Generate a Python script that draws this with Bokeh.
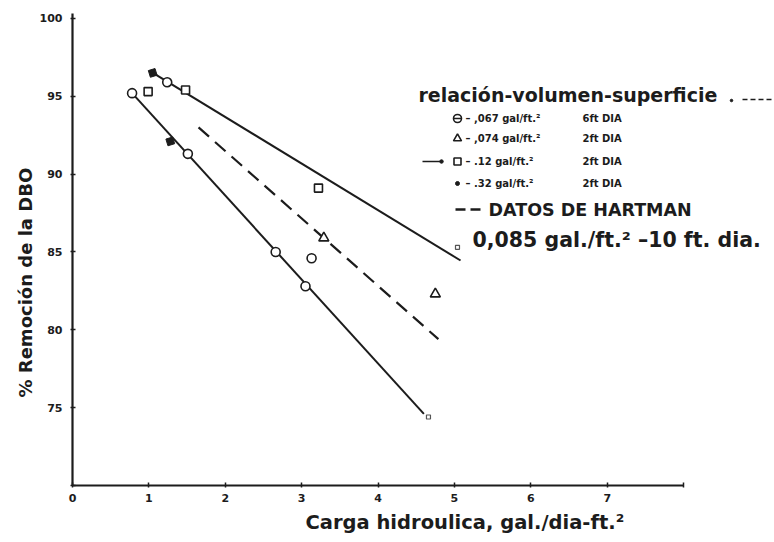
import math
from bokeh.plotting import figure
from bokeh.models import Range1d, FixedTicker, Label, Title
from bokeh.embed import file_html
from bokeh.resources import INLINE

# --- data -----------------------------------------------------------------
# relación volumen-superficie .067 gal/ft2, 6 ft diámetro (círculos)
c067_x = [0.78, 1.24, 1.51, 2.66, 3.05, 3.13]
c067_y = [95.2, 95.9, 91.3, 85.0, 82.8, 84.6]
# .074 gal/ft2, 2 ft diámetro (triángulos)
t074_x = [3.29, 4.75]
t074_y = [85.9, 82.3]
# .12 gal/ft2, 2 ft diámetro (cuadrados)
s12_x = [0.99, 1.48, 3.22]
s12_y = [95.3, 95.4, 89.1]
# .32 gal/ft2, 2 ft diámetro (puntos rellenos)
f32_x = [1.05, 1.28]
f32_y = [96.5, 92.1]
# puntos pequeños al final de las rectas
end_x = [5.04, 4.66]
end_y = [85.3, 74.4]

# rectas de ajuste
lower_x = [0.78, 4.60]
lower_y = [95.2, 74.6]
upper_x = [1.02, 5.08]
upper_y = [96.6, 84.45]
# datos de Hartman, 0.085 gal/ft2 - 10 ft
hart_x = [1.65, 4.79]
hart_y = [93.0, 79.4]

x_ticks = [0, 1, 2, 3, 4, 5, 6, 7, 8]
y_ticks = [70, 75, 80, 85, 90, 95, 100]

# --- figure ---------------------------------------------------------------
W, H = 774, 542
LEFT, BOTTOM = 72, 57
X_END, Y_END = 9.19, 101.15
INK = "#1c1c1c"
FONT = "DejaVu Sans"

p = figure(width=W, height=H, output_backend="svg", toolbar_location=None,
           x_range=Range1d(0, X_END), y_range=Range1d(70, Y_END),
           min_border_left=LEFT, min_border_bottom=BOTTOM,
           min_border_right=0, min_border_top=0)
p.outline_line_color = None
p.grid.grid_line_color = None
p.background_fill_color = "white"
p.border_fill_color = "white"

sx = (W - LEFT) / X_END
sy = (H - BOTTOM) / (Y_END - 70)


def dx(px):
    return (px - LEFT) / sx


def dy(py):
    return 70 + (H - BOTTOM - py) / sy


for ax, ticks, bounds, hide in ((p.xaxis, x_ticks, (0, 8), 8),
                                (p.yaxis, y_ticks, (70, 100.3), 70)):
    ax.ticker = FixedTicker(ticks=ticks)
    ax.bounds = bounds
    ax.major_label_overrides = {hide: ""}
    ax.axis_line_width = 2.2
    ax.axis_line_color = INK
    ax.major_tick_line_color = INK
    ax.major_tick_line_width = 1.5
    ax.major_tick_in = 3
    ax.major_tick_out = 2
    ax.minor_tick_line_color = None
    ax.major_label_text_font = FONT
    ax.major_label_text_font_style = "bold"
    ax.major_label_text_font_size = "11px"
    ax.major_label_text_color = INK
p.yaxis.major_label_standoff = 8
p.xaxis.major_label_standoff = 6

# axis titles, placed as side titles so they can sit off-centre
p.add_layout(Title(text="Carga hidroulica, gal./dia-ft.²", align="left",
                   offset=233, text_font=FONT, text_font_style="bold",
                   text_font_size="19.5px", text_color=INK, standoff=9), "below")
p.add_layout(Title(text="% Remoción de la DBO", align="left", offset=88,
                   text_font=FONT, text_font_style="bold",
                   text_font_size="18px", text_color=INK, standoff=2), "left")

# --- lines ----------------------------------------------------------------
p.line(lower_x, lower_y, line_color=INK, line_width=2)
p.line(upper_x, upper_y, line_color=INK, line_width=2)
p.line(hart_x, hart_y, line_color=INK, line_width=2.2, line_dash="14 8")

# --- markers --------------------------------------------------------------
mk = dict(line_color=INK, line_width=1.6, fill_color="white")
p.scatter(c067_x, c067_y, marker="circle", size=9, **mk)
p.scatter(t074_x, t074_y, marker="triangle", size=10, **mk)
p.scatter(s12_x, s12_y, marker="square", size=8, **mk)
p.scatter(f32_x, f32_y, marker="square", size=7, line_color=INK,
          fill_color=INK, angle=0.3)
p.scatter(end_x, end_y, marker="square", size=4, line_color="#555555",
          fill_color=None, line_width=1.2)


# --- legend ---------------------------------------------------------------
def txt(px, py, s, size, align="left"):
    p.add_layout(Label(x=dx(px), y=dy(py), text=s, text_font=FONT,
                       text_font_style="bold", text_font_size=size,
                       text_color=INK, text_align=align,
                       text_baseline="middle"))


txt(418, 94, "relación-volumen-superficie", "19px")
p.scatter([dx(731)], [dy(100)], marker="circle", size=2.5, color=INK)
p.line([dx(742), dx(772)], [dy(99), dy(99)], line_color=INK, line_width=1.5,
       line_dash="5 3")

rows = [
    ("– ,067 gal/ft.²", "6ft  DIA", 118),
    ("– ,074 gal/ft.²", "2ft  DIA", 138),
    ("– .12   gal/ft.²", "2ft  DIA", 161),
    ("– .32  gal/ft.²", "2ft  DIA", 183),
]
for a, b, py in rows:
    txt(465, py, a, "10px")
    txt(582, py, b, "10px")

# row markers
p.scatter([dx(457)], [dy(118)], marker="circle", size=8, **mk)
p.line([dx(453), dx(461)], [dy(118), dy(118)], line_color=INK, line_width=1.5)
p.scatter([dx(457)], [dy(138)], marker="triangle", size=8, **mk)
p.scatter([dx(457)], [dy(161)], marker="square", size=7, **mk)
p.line([dx(422), dx(440)], [dy(161), dy(161)], line_color=INK, line_width=1.5)
p.scatter([dx(441)], [dy(161)], marker="circle", size=3.5, color=INK)
p.scatter([dx(457)], [dy(183)], marker="circle", size=4, color=INK)

p.line([dx(455), dx(482)], [dy(209), dy(209)], line_color=INK, line_width=2.5,
       line_dash="10 5")
txt(488, 209, "DATOS DE HARTMAN", "17.5px")
txt(472, 239, "0,085 gal./ft.² –10 ft. dia.", "20.5px")

open("out.html", "w").write(file_html(p, INLINE))
